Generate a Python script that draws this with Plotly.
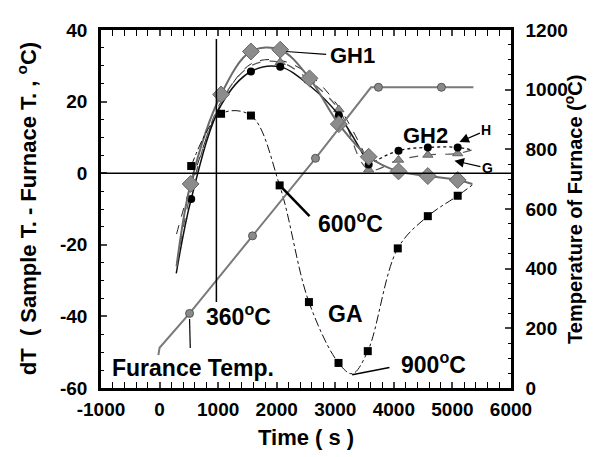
import plotly.graph_objects as go

# ---------------- data ----------------
# Furnace temperature (right axis)
furn_t = [-20, 0, 512, 1587, 2662, 3610, 3737, 4812, 5358]
furn_T = [110, 135, 250, 510, 770, 1008, 1008, 1008, 1008]
furn_mark_t = [512, 1587, 2662, 3737, 4812]
furn_mark_T = [250, 510, 770, 1008, 1008]

# GH1 (gray diamonds)
gh1_t = [290, 530, 1050, 1560, 2060, 2560, 3060, 3570, 4080, 4580, 5090, 5340]
gh1_dT = [-26, -3, 22, 34, 34.5, 26.5, 13.7, 4.6, 0.5, -0.8, -1.9, -3]
gh1_mark_t = [530, 1050, 1560, 2060, 2560, 3060, 3570, 4080, 4580, 5090]
gh1_mark_dT = [-3, 22, 34, 34.5, 26.5, 13.7, 4.6, 0.5, -0.8, -1.9]

# H (black circles)
h_t = [285, 540, 1050, 1560, 2060, 2560, 3060, 3570]
h_dT = [-28, -7.2, 19, 28.4, 29.7, 24.5, 16.2, 2.4]
h_tail_t = [3570, 4080, 4580, 5090, 5340]
h_tail_dT = [2.4, 6.3, 7.2, 7.2, 6.4]
h_mark_t = [540, 1560, 2060, 3060, 3570, 4080, 4580, 5090]
h_mark_dT = [-7.2, 28.4, 29.7, 16.2, 2.4, 6.3, 7.2, 7.2]

# G (gray triangles)
g_t = [300, 540, 1050, 1560, 2060, 2560, 3060, 3570, 4080, 4580, 5090, 5340]
g_dT = [-25, -5, 20, 30, 31, 25.9, 17.8, 1, 3.7, 5.1, 5.5, 6.5]
g_mark_t = [2060, 2560, 3060, 3570, 4080, 4580, 5090]
g_mark_dT = [31, 25.9, 17.8, 1, 3.7, 5.1, 5.5]

# additional dashed trace (no markers)
d_t = [290, 540, 1050, 1560, 2060, 2560, 3060, 3570]
d_dT = [-17, -3, 19.5, 30.5, 31.5, 27.5, 18.5, 3]

# GA (black squares)
ga_t = [540, 1050, 1560, 2050, 2550, 3055, 3290, 3555, 4067, 4580, 5090, 5340]
ga_dT = [2, 16.6, 16.1, -3.4, -36, -53, -56, -49.7, -21, -12, -6.3, -3.3]
ga_mark_t = [540, 1050, 1560, 2050, 2550, 3055, 3555, 4067, 4580, 5090]
ga_mark_dT = [2, 16.6, 16.1, -3.4, -36, -53, -49.7, -21, -12, -6.3]

# tick labels
x_ticks = [-1000, 0, 1000, 2000, 3000, 4000, 5000, 6000]
x_ticktext = ["-1000", "0", "1000", "2000", "3000", "4000", "5000", "6000"]
y_ticks = [-60, -40, -20, 0, 20, 40]
y_ticktext = ["-60", "-40", "-20", "0", "20", "40"]
y2_ticks = [0, 200, 400, 600, 800, 1000, 1200]
y2_ticktext = ["0", "200", "400", "600", "800", "1000", "1200"]

FONT = "Liberation Sans"
GRAY = "#7a7a7a"

fig = go.Figure()

# furnace line
fig.add_trace(go.Scatter(x=furn_t, y=furn_T, yaxis="y2", mode="lines",
                         line=dict(color=GRAY, width=2), showlegend=False))
fig.add_trace(go.Scatter(x=furn_mark_t, y=furn_mark_T, yaxis="y2", mode="markers",
                         marker=dict(symbol="circle", size=8, color="#8a8a8a",
                                     line=dict(color="#555", width=1)), showlegend=False))

# dashed extra
fig.add_trace(go.Scatter(x=d_t, y=d_dT, mode="lines", line_shape="spline",
                         line=dict(color="#222", width=1, dash="dash"), showlegend=False))
# G
fig.add_trace(go.Scatter(x=g_t, y=g_dT, mode="lines", line_shape="spline",
                         line=dict(color="#555", width=1.2, dash="dash"), showlegend=False))
fig.add_trace(go.Scatter(x=g_mark_t, y=g_mark_dT, mode="markers",
                         marker=dict(symbol="triangle-up", size=9, color="#8a8a8a",
                                     line=dict(color="#666", width=1)), showlegend=False))
# H
fig.add_trace(go.Scatter(x=h_t, y=h_dT, mode="lines", line_shape="spline",
                         line=dict(color="#111", width=1.5), showlegend=False))
fig.add_trace(go.Scatter(x=h_tail_t, y=h_tail_dT, mode="lines", line_shape="spline",
                         line=dict(color="#111", width=1.3, dash="dot"), showlegend=False))
fig.add_trace(go.Scatter(x=h_mark_t, y=h_mark_dT, mode="markers",
                         marker=dict(symbol="circle", size=8, color="#000"), showlegend=False))
# GH1
fig.add_trace(go.Scatter(x=gh1_t, y=gh1_dT, mode="lines", line_shape="spline",
                         line=dict(color="#6a6a6a", width=2), showlegend=False))
fig.add_trace(go.Scatter(x=gh1_mark_t, y=gh1_mark_dT, mode="markers",
                         marker=dict(symbol="diamond", size=13, color="#8c8c8c",
                                     line=dict(color="#666", width=1)), showlegend=False))
# GA
fig.add_trace(go.Scatter(x=ga_t, y=ga_dT, mode="lines", line_shape="spline",
                         line=dict(color="#111", width=1, dash="dashdot"), showlegend=False))
fig.add_trace(go.Scatter(x=ga_mark_t, y=ga_mark_dT, mode="markers",
                         marker=dict(symbol="square", size=8, color="#000"), showlegend=False))

# reference lines
fig.add_shape(type="line", xref="paper", yref="y", x0=0, x1=1, y0=0, y1=0,
              line=dict(color="black", width=1.5))
fig.add_shape(type="line", xref="x", yref="y", x0=970, x1=970, y0=-36, y1=37.5,
              line=dict(color="black", width=1.5))

# pointer lines
pointers = [
    (2162, 34.0, 2844, 33.2, 1.2),
    (2048, -3.3, 2560, -12, 2.5),
    (512, -40.7, 524, -48.8, 1.2),
    (3288, -56.3, 3925, -54.3, 1.5),
]
for x0, y0, x1, y1, w in pointers:
    fig.add_shape(type="line", xref="x", yref="y", x0=x0, y0=y0, x1=x1, y1=y1,
                  line=dict(color="black", width=w))

big = dict(family=FONT, size=23, color="black", weight="bold")
labels = [
    ("GH1", 2867, 32.9, "left", 22),
    ("GH2", 4539, 10.6, "center", 22),
    ("600<sup>o</sup>C", 2679, -13.6, "left", 23),
    ("360<sup>o</sup>C", 751, -39.7, "left", 23),
    ("GA", 3174, -39.4, "center", 23),
    ("900<sup>o</sup>C", 4096, -53, "left", 23),
    ("Furance Temp.", 563, -54.3, "center", 23),
]
for txt, x, y, anc, sz in labels:
    fig.add_annotation(x=x, y=y, text=txt, showarrow=False, xanchor=anc, yanchor="middle",
                       font=dict(family=FONT, size=sz, color="black", weight="bold"))

small = dict(family=FONT, size=14, color="black", weight="bold")
fig.add_annotation(x=5119, y=8.7, ax=5580, ay=12, axref="x", ayref="y", text="H",
                   font=small, showarrow=True, arrowhead=2, arrowsize=1.6,
                   arrowwidth=1.2, arrowcolor="black", standoff=0)
fig.add_annotation(x=5034, y=3.5, ax=5597, ay=1.4, axref="x", ayref="y", text="G",
                   font=small, showarrow=True, arrowhead=2, arrowsize=1.6,
                   arrowwidth=1.2, arrowcolor="black", standoff=0)

# axis titles
fig.add_annotation(xref="paper", yref="paper", x=-0.18, y=0.5, xanchor="center", yanchor="middle",
                   text="dT  ( Sample T. - Furnace T. , <sup>o</sup>C)", textangle=-90,
                   showarrow=False, font=dict(family=FONT, size=22, color="black", weight="bold"))
fig.add_annotation(xref="paper", yref="paper", x=1.151, y=0.5, xanchor="center", yanchor="middle",
                   text="Temperature of Furnace (<sup>o</sup>C)", textangle=-90,
                   showarrow=False, font=dict(family=FONT, size=20, color="black", weight="bold"))
fig.add_annotation(xref="paper", yref="paper", x=0.5, y=-0.139, xanchor="center", yanchor="middle",
                   text="Time ( s )", showarrow=False,
                   font=dict(family=FONT, size=22, color="black", weight="bold"))

tickfont = dict(family=FONT, size=19, color="black", weight="bold")
fig.update_layout(
    width=597, height=449,
    margin=dict(l=93, r=94, t=12, b=69),
    paper_bgcolor="white", plot_bgcolor="white",
    showlegend=False,
    xaxis=dict(range=[-1000, 6000], tickvals=x_ticks, ticktext=x_ticktext,
               ticks="inside", ticklen=6,
               tickwidth=1.5, showline=True, linecolor="black", linewidth=2.5,
               mirror="allticks", showgrid=False, zeroline=False, tickfont=tickfont,
               ticklabelstandoff=2,
               minor=dict(dtick=200, tick0=0, ticks="inside", ticklen=3, tickwidth=1.2,
                          tickcolor="black")),
    yaxis=dict(range=[-60, 40], tickvals=y_ticks, ticktext=y_ticktext,
               ticks="inside", ticklen=6, tickwidth=1.5,
               showline=True, linecolor="black", linewidth=2.5, showgrid=False, zeroline=False,
               tickfont=tickfont, ticklabelstandoff=7,
               minor=dict(dtick=5, tick0=0, ticks="inside", ticklen=3, tickwidth=1.2,
                          tickcolor="black")),
    yaxis2=dict(range=[0, 1200], tickvals=y2_ticks, ticktext=y2_ticktext,
                overlaying="y", side="right", ticks="inside",
                ticklen=6, tickwidth=1.5, showline=True, linecolor="black", linewidth=2.5,
                showgrid=False, zeroline=False, tickfont=tickfont, ticklabelstandoff=8,
                minor=dict(dtick=50, tick0=0, ticks="inside", ticklen=3, tickwidth=1.2,
                           tickcolor="black")),
)

fig.write_html("out.html")
